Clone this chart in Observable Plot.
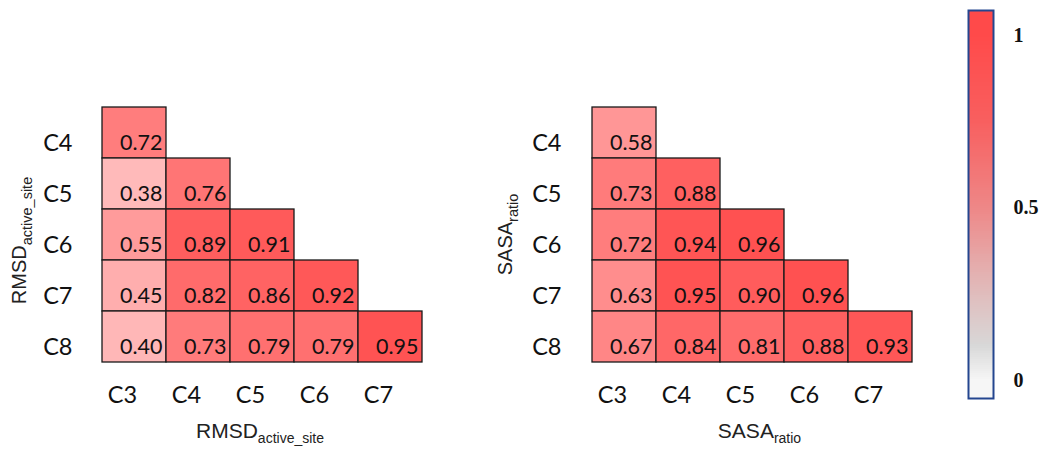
<!DOCTYPE html>
<html>
<head>
<meta charset="utf-8">
<script src="https://cdn.jsdelivr.net/npm/d3@7"></script>
<script src="https://cdn.jsdelivr.net/npm/@observablehq/plot@0.6"></script>
<style>
  html, body { margin: 0; padding: 0; background: #fff; }
  #root { position: relative; width: 1050px; height: 457px; overflow: hidden; }
  #root > div { position: absolute; top: 0; }
</style>
</head>
<body>
<div id="root">
  <div id="left" style="left:0px"></div>
  <div id="right" style="left:490px"></div>
  <div id="bar" style="left:940px"></div>
</div>
<script>
// ---- data ----
const rowLabels = ["C4", "C5", "C6", "C7", "C8"];
const colLabels = ["C3", "C4", "C5", "C6", "C7"];
const rmsdValues = [
  [0.72],
  [0.38, 0.76],
  [0.55, 0.89, 0.91],
  [0.45, 0.82, 0.86, 0.92],
  [0.40, 0.73, 0.79, 0.79, 0.95]
];
const sasaValues = [
  [0.58],
  [0.73, 0.88],
  [0.72, 0.94, 0.96],
  [0.63, 0.95, 0.90, 0.96],
  [0.67, 0.84, 0.81, 0.88, 0.93]
];
const colorbarTicks = [0, 0.5, 1];
const colorbarTickLabels = ["0", "0.5", "1"];

function toTable(values) {
  const out = [];
  values.forEach((row, i) => row.forEach((v, j) => out.push({ x: colLabels[j], y: rowLabels[i], v })));
  return out;
}

const cellColor = { type: "linear", domain: [0, 1], range: ["#ffffff", "#ff4a4a"], interpolate: "rgb" };

function heatmap(values, opts) {
  const data = toTable(values);
  const W = 470, H = 457;
  const plot = Plot.plot({
    width: W,
    height: H,
    marginLeft: opts.marginLeft,
    marginRight: 48,
    marginTop: 107,
    marginBottom: 95,
    style: { fontFamily: "Lato, 'Open Sans', sans-serif", background: "transparent", color: "#111" },
    x: { type: "band", domain: colLabels, padding: 0, label: null },
    y: { type: "band", domain: rowLabels, padding: 0, label: null },
    color: cellColor,
    marks: [
      Plot.cell(data, { x: "x", y: "y", fill: "v", stroke: "#1a1a1a", strokeWidth: 1.3, inset: 0 }),
      Plot.text(data, { x: "x", y: "y", text: d => d.v.toFixed(2), textAnchor: "end", dx: 28, dy: 10, fontSize: 21.5, fill: "#111" }),
      Plot.axisX({ tickSize: 0, tickPadding: 24, fontSize: 23.5, dx: -12, label: null, fill: "#111" }),
      Plot.axisY({ tickSize: 0, tickPadding: 30, fontSize: 23.5, dy: 10, label: null, fill: "#111" })
    ]
  });
  const svg = d3.select(plot);
  const xr = plot.scale("x").range;
  const yr = plot.scale("y").range;
  const cx = (xr[0] + xr[1]) / 2 + (opts.titleShift || 0);
  const cy = (yr[0] + yr[1]) / 2 + (opts.yTitleShift || 0);
  // x title
  const tx = svg.append("text")
    .attr("x", cx).attr("y", 438)
    .attr("text-anchor", "middle")
    .attr("font-family", "'Liberation Sans', Arial, sans-serif")
    .attr("font-size", 21).attr("fill", "#222");
  tx.append("tspan").text(opts.main);
  tx.append("tspan").attr("dy", 5).attr("font-size", 14).text(opts.sub);
  // y title
  const ty = svg.append("text")
    .attr("transform", `translate(${opts.yTitleX},${cy}) rotate(-90)`)
    .attr("text-anchor", "middle")
    .attr("font-family", "'Liberation Sans', Arial, sans-serif")
    .attr("font-size", 20).attr("fill", "#222");
  ty.append("tspan").text(opts.main);
  ty.append("tspan").attr("dy", 6).attr("font-size", 14.5).text(opts.sub);
  return plot;
}

document.getElementById("left").append(heatmap(rmsdValues, {
  marginLeft: 102, main: "RMSD", sub: "active_site", yTitleX: 26, titleShift: -2, yTitleShift: 6
}));
document.getElementById("right").append(heatmap(sasaValues, {
  marginLeft: 101, main: "SASA", sub: "ratio", yTitleX: 22, titleShift: 8, yTitleShift: 0
}));

// ---- colour bar ----
const barColor = d3.scaleLinear()
  .domain([0, 0.1, 0.3, 0.5, 0.75, 1])
  .range(["#f6f6f6", "#d8d8d8", "#e3b3b3", "#ee8787", "#f85f5f", "#ff4a4a"]);
const lo = -0.052, hi = 1.072, steps = 200;
const stripes = d3.range(steps).map(i => {
  const a = lo + (hi - lo) * i / steps, b = lo + (hi - lo) * (i + 1) / steps;
  return { y1: a, y2: b, c: barColor(Math.max(0, Math.min(1, (a + b) / 2))) };
});
const bar = Plot.plot({
  width: 110,
  height: 457,
  marginLeft: 28,
  marginRight: 57,
  marginTop: 10,
  marginBottom: 59,
  style: { background: "transparent" },
  x: { domain: [0, 1], axis: null },
  y: { domain: [lo, hi], label: null },
  marks: [
    Plot.rect(stripes, { x1: 0, x2: 1, y1: "y1", y2: "y2", fill: "c", inset: 0, shapeRendering: "crispEdges" }),
    Plot.frame({ stroke: "#24468f", strokeWidth: 2 }),
    Plot.axisY({
      anchor: "right", ticks: colorbarTicks, tickSize: 0, tickPadding: 20,
      tickFormat: (d) => colorbarTickLabels[colorbarTicks.indexOf(d)],
      fontSize: 20, fontWeight: "bold", fontFamily: "'Liberation Serif', 'Times New Roman', serif", fill: "#111", label: null
    })
  ]
});
document.getElementById("bar").append(bar);
</script>
</body>
</html>
